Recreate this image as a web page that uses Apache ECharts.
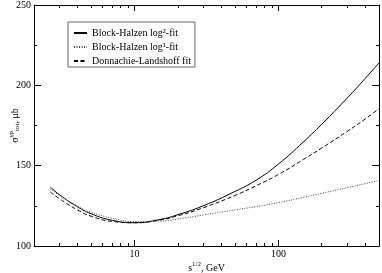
<!DOCTYPE html>
<html><head><meta charset="utf-8">
<script src="https://cdn.jsdelivr.net/npm/echarts@6/dist/echarts.min.js"></script>
<style>html,body{margin:0;padding:0;background:#fff}#c{width:382px;height:273px}</style>
</head><body><div id="c"></div>
<script>
const energies = [2.6, 3, 4, 5, 7, 10, 15, 20, 30, 50, 70, 100, 150, 200, 300, 400, 500];
const blockHalzenLog2 = [136.7, 132, 124.5, 120, 116, 114.5, 116.5, 119.5, 125, 134, 141, 151, 165, 175.8, 192, 204.2, 214];
const blockHalzenLog1 = [135.5, 131.5, 124.8, 121, 117.3, 115.2, 115.5, 116.8, 119.3, 122.5, 124.5, 127, 130.3, 132.8, 136.3, 138.8, 140.8];
const donnachieLandshoff = [133.6, 129.5, 122.5, 118.5, 115.3, 114.5, 116.2, 118.8, 123.8, 131.5, 137.5, 144.5, 154, 161, 171.3, 179, 185.5];
const xMajorTicks = [10, 100];
const xMinorTicks = [3, 4, 5, 6, 7, 8, 9, 20, 30, 40, 50, 60, 70, 80, 90, 200, 300, 400];
const yMin = 100, yMax = 250, yStep = 50;

const FONT = 'Liberation Serif';
const chart = echarts.init(document.getElementById('c'), null, {renderer: 'canvas'});
const pairs = arr => energies.map((x, i) => [x, arr[i]]);
const black = '#000';

function xAx(pos, ticks, len, withLine, withLabel) {
  return {
    type: 'log', logBase: 10, min: 2, max: 500, position: pos,
    axisLine: {show: withLine, lineStyle: {color: black, width: 1}},
    axisTick: {show: true, inside: true, length: len, customValues: ticks, lineStyle: {color: black, width: 1}},
    axisLabel: withLabel ? {show: true, customValues: xMajorTicks, color: black, fontFamily: FONT, fontSize: 10, margin: 3} : {show: false},
    splitLine: {show: false}, minorTick: {show: false}, minorSplitLine: {show: false},
    name: withLabel ? 's{sup|1/2}, GeV' : '',
    nameLocation: 'middle', nameGap: 15, nameMoveOverlap: false,
    nameTextStyle: {color: black, fontFamily: FONT, fontSize: 10,
      rich: {sup: {fontSize: 7, fontFamily: FONT, color: black, padding: [0, 0, 7, 0]}}}
  };
}
function yAx(pos, withLabel) {
  return {
    type: 'value', min: yMin, max: yMax, interval: yStep, position: pos,
    axisLine: {show: true, lineStyle: {color: black, width: 1}},
    axisTick: {show: true, inside: true, length: 7, lineStyle: {color: black, width: 1}},
    minorTick: {show: true, splitNumber: 2, length: 3, lineStyle: {color: black, width: 1}},
    axisLabel: withLabel ? {show: true, color: black, fontFamily: FONT, fontSize: 10, margin: 3} : {show: false},
    splitLine: {show: false}, minorSplitLine: {show: false},
    name: withLabel ? 'σ{sup|γp}{sub|tot}, μb' : '',
    nameLocation: 'middle', nameRotate: 90, nameGap: 12, nameMoveOverlap: false,
    nameTextStyle: {color: black, fontFamily: FONT, fontSize: 10,
      rich: {sup: {fontSize: 7, fontFamily: FONT, color: black, padding: [0, 0, 7, 0]},
             sub: {fontSize: 7, fontFamily: FONT, color: black, padding: [5, 0, 0, 0]}}}
  };
}

chart.setOption({
  animation: false,
  backgroundColor: '#fff',
  grid: {left: 34, right: 3, top: 5, bottom: 27, outerBoundsMode: 'none', containLabel: false},
  xAxis: [
    xAx('bottom', xMajorTicks, 6, true, true),
    xAx('bottom', xMinorTicks, 3, false, false),
    xAx('top', xMajorTicks, 6, true, false),
    xAx('top', xMinorTicks, 3, false, false)
  ],
  yAxis: [yAx('left', true), yAx('right', false)],
  legend: {
    orient: 'vertical', left: 68, top: 22,
    itemWidth: 13, itemHeight: 10, itemGap: 4,
    padding: [6, 4, 1, 5],
    borderColor: '#666', borderWidth: 1, borderRadius: 0, backgroundColor: '#fff',
    itemStyle: {opacity: 0},
    textStyle: {fontFamily: FONT, fontSize: 10, color: black},
    data: ['Block-Halzen log²-fit', 'Block-Halzen log¹-fit', 'Donnachie-Landshoff fit']
  },
  series: [
    {name: 'Block-Halzen log²-fit', type: 'line', smooth: true, symbol: 'none', data: pairs(blockHalzenLog2),
     lineStyle: {color: black, width: 1, type: 'solid'}, itemStyle: {color: black}},
    {name: 'Block-Halzen log¹-fit', type: 'line', smooth: true, symbol: 'none', data: pairs(blockHalzenLog1),
     lineStyle: {color: '#444', width: 1, type: [1, 1.5]}, itemStyle: {color: '#444'}},
    {name: 'Donnachie-Landshoff fit', type: 'line', smooth: true, symbol: 'none', data: pairs(donnachieLandshoff),
     lineStyle: {color: black, width: 1, type: [4, 2.5]}, itemStyle: {color: black}}
  ]
});
</script></body></html>
